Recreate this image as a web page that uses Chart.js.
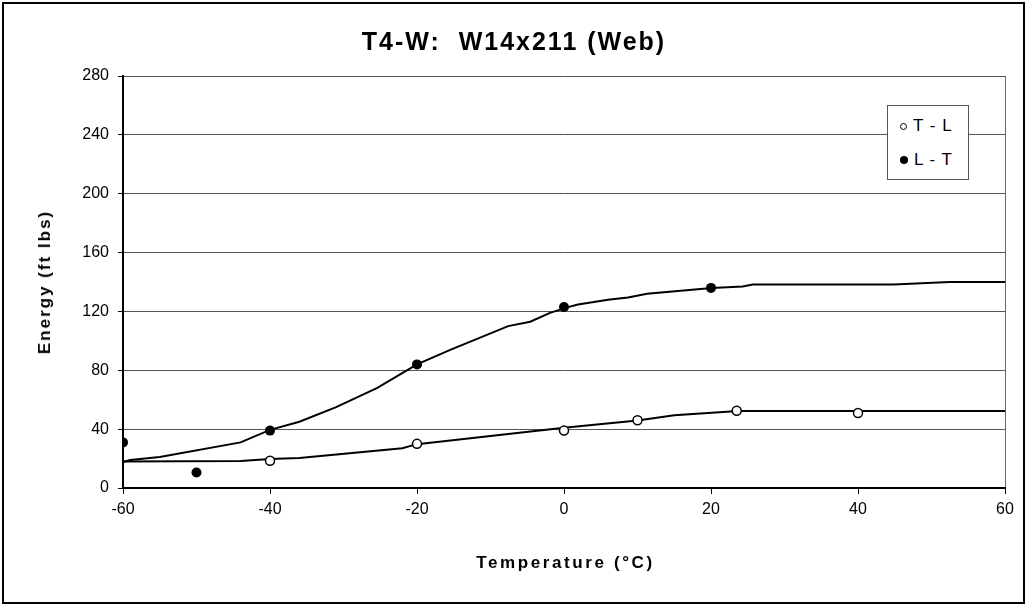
<!DOCTYPE html>
<html lang="en">
<head>
    <meta charset="UTF-8">
    <title>T4-W: W14x211 (Web)</title>
    <script src="https://cdn.jsdelivr.net/npm/chart.js"></script>
    <style>
        body {
            margin: 0;
            background: #fff;
            font-family: "Liberation Sans", Arial, sans-serif;
        }

        .wrap {
            position: relative;
            width: 1026px;
            height: 605px;
        }

        .title {
            position: absolute;
            left: 0;
            top: 26px;
            width: 1026px;
            text-align: center;
            font-size: 25px;
            font-weight: bold;
            line-height: 30px;
            letter-spacing: 2px;
            padding-left: 2px;
            box-sizing: border-box;
        }

        .x-title {
            position: absolute;
            left: 364px;
            top: 553px;
            width: 400px;
            text-align: center;
            font-size: 17px;
            font-weight: bold;
            line-height: 20px;
            letter-spacing: 2.6px;
            padding-left: 3px;
            box-sizing: border-box;
        }

        .y-title {
            position: absolute;
            left: 45px;
            top: 282px;
            transform: translate(-50%, -50%) rotate(-90deg);
            white-space: nowrap;
            font-size: 17px;
            font-weight: bold;
            line-height: 20px;
            letter-spacing: 2px;
        }

        /* legend box sits inside the plot, top right */
        .legend {
            position: absolute;
            left: 887px;
            top: 105px;
            width: 80px;
            height: 73px;
            border: 1px solid #555;
            background: #fff;
            font-size: 17px;
            letter-spacing: 1px;
            color: #000;
        }

        .legend .item {
            position: absolute;
            left: 12px;
            height: 20px;
            line-height: 20px;
            white-space: nowrap;
        }

        .legend .dot {
            display: inline-block;
            width: 7px;
            height: 7px;
            border-radius: 50%;
            margin-right: 6px;
            vertical-align: 1px;
        }
    </style>
</head>
<body>
    <div class="wrap">
        <canvas id="chart" width="1026" height="605"></canvas>
        <div class="title">T4-W:&nbsp; W14x211 (Web)</div>
        <div class="y-title">Energy (ft lbs)</div>
        <div class="x-title">Temperature (°C)</div>
        <div class="legend">
            <div class="item" style="top: 10px;"><span class="dot" style="border: 1.5px solid #000; width: 5px; height: 5px;"></span>T - L</div>
            <div class="item" style="top: 44px;"><span class="dot" style="background: #000; width: 8px; height: 8px;"></span>L - T</div>
        </div>
    </div>

    <script>
        // measured points
        const tlTemp = [-40, -20, 0, 10, 23.5, 40];
        const tlEnergy = [18.5, 30, 39, 46, 52.5, 51];
        const ltTemp = [-60, -50, -40, -20, 0, 20];
        const ltEnergy = [31, 10.5, 39, 84, 123, 136];

        // fitted curves
        const tlFitTemp = [-60, -44, -40, -36, -22, -20, 0, 10, 15, 23.7, 60];
        const tlFitEnergy = [18, 18.4, 19.7, 20.4, 27, 29.8, 41, 45.8, 49.5, 52.4, 52.4];
        const ltFitTemp = [-60, -59, -55, -44, -40, -36, -31, -25.4, -20, -15.4, -7.6, -4.6, -1.9, 0.3, 1.9, 6, 8.7, 11.3, 20.1, 24.3, 25.7, 44.8, 52.5, 60];
        const ltFitEnergy = [17.7, 19, 21, 31, 39.5, 45, 55, 68, 84, 94, 110, 113, 119, 122.6, 124.7, 128, 129.4, 132, 136, 137, 138.3, 138.3, 140, 140];

        const xTicks = [-60, -40, -20, 0, 20, 40, 60];
        const yTicks = [0, 40, 80, 120, 160, 200, 240, 280];

        function pairs(xs, ys) {
            return xs.map((x, i) => ({ x: x, y: ys[i] }));
        }

        // white page + outer frame
        const framePlugin = {
            id: 'frame',
            beforeDraw(chart) {
                const c = chart.ctx;
                c.save();
                c.fillStyle = '#fff';
                c.fillRect(0, 0, chart.width, chart.height);
                c.strokeStyle = '#000';
                c.lineWidth = 2;
                c.strokeRect(3, 3, chart.width - 5, chart.height - 5);
                c.restore();
            }
        };

        const font = { family: '"Liberation Sans", Arial, sans-serif', size: 16 };

        new Chart(document.getElementById('chart'), {
            type: 'scatter',
            data: {
                datasets: [
                    {
                        label: 'T - L',
                        data: pairs(tlTemp, tlEnergy),
                        pointRadius: 4.5,
                        pointBackgroundColor: '#fff',
                        pointBorderColor: '#000',
                        pointBorderWidth: 1.5,
                        showLine: false,
                        order: 0
                    },
                    {
                        label: 'L - T',
                        data: pairs(ltTemp, ltEnergy),
                        pointRadius: 5,
                        pointBackgroundColor: '#000',
                        pointBorderColor: '#000',
                        pointBorderWidth: 0,
                        showLine: false,
                        order: 0
                    },
                    {
                        label: 'T - L fit',
                        data: pairs(tlFitTemp, tlFitEnergy),
                        showLine: true,
                        borderColor: '#000',
                        borderWidth: 2,
                        pointRadius: 0,
                        tension: 0,
                        order: 1
                    },
                    {
                        label: 'L - T fit',
                        data: pairs(ltFitTemp, ltFitEnergy),
                        showLine: true,
                        borderColor: '#000',
                        borderWidth: 2,
                        pointRadius: 0,
                        tension: 0,
                        order: 1
                    }
                ]
            },
            options: {
                responsive: false,
                animation: false,
                layout: { padding: { left: 0, top: 76, right: 21, bottom: 0 } },
                plugins: {
                    legend: { display: false },
                    tooltip: { enabled: false },
                    title: { display: false }
                },
                scales: {
                    x: {
                        type: 'linear',
                        min: -60,
                        max: 60,
                        afterBuildTicks(scale) {
                            scale.ticks = xTicks.map(v => ({ value: v }));
                        },
                        afterFit(scale) {
                            scale.height = 117;
                        },
                        ticks: { color: '#000', font: font, padding: 6, maxRotation: 0 },
                        grid: {
                            color: ctx => (ctx.tick && ctx.tick.value === 60 ? '#666' : 'rgba(0,0,0,0)'),
                            tickColor: '#000',
                            tickLength: 6,
                            lineWidth: 1
                        },
                        border: { color: '#000', width: 2 }
                    },
                    y: {
                        type: 'linear',
                        min: 0,
                        max: 280,
                        afterBuildTicks(scale) {
                            scale.ticks = yTicks.map(v => ({ value: v }));
                        },
                        afterFit(scale) {
                            scale.width = 123;
                        },
                        ticks: { color: '#000', font: font, padding: 9 },
                        grid: {
                            color: '#555',
                            tickColor: '#000',
                            tickLength: 5,
                            lineWidth: 1
                        },
                        border: { color: '#000', width: 2 }
                    }
                }
            },
            plugins: [framePlugin]
        });
    </script>
</body>
</html>
